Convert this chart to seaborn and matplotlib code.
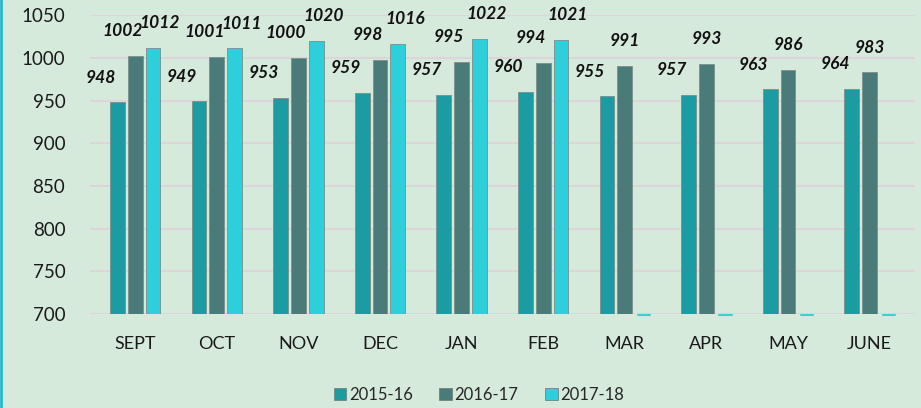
import numpy as np
import pandas as pd
import seaborn as sns
import matplotlib.pyplot as plt
from matplotlib.lines import Line2D

# data
months = ["SEPT", "OCT", "NOV", "DEC", "JAN", "FEB", "MAR", "APR", "MAY", "JUNE"]
y2015_16 = [948, 949, 953, 959, 957, 960, 955, 957, 963, 964]
y2016_17 = [1002, 1001, 1000, 998, 995, 994, 991, 993, 986, 983]
y2017_18 = [1012, 1011, 1020, 1016, 1022, 1021, np.nan, np.nan, np.nan, np.nan]
seasons = ["2015-16", "2016-17", "2017-18"]
colors = ["#1b9ba2", "#4a7b79", "#2ccfda"]

bg = "#d6eadc"

df = pd.DataFrame({
    "month": months * 3,
    "season": np.repeat(seasons, len(months)),
    "value": y2015_16 + y2016_17 + y2017_18,
})

sns.set_style("white")
plt.rcParams["font.family"] = ["Lato", "DejaVu Sans"]

fig = plt.figure(figsize=(9.21, 4.08), dpi=100, facecolor=bg)
ax = fig.add_axes([0.098, 0.230, 0.895, 0.733])
ax.set_facecolor(bg)

sns.barplot(data=df, x="month", y="value", hue="season", order=months,
            hue_order=seasons, palette=colors, saturation=1, width=0.655, gap=0.17,
            edgecolor="#7a8f8a", linewidth=0.6, ax=ax, legend=True)

ax.set_ylim(700, 1050)
ax.set_yticks(range(700, 1051, 50))
ax.yaxis.grid(True, color="#dcd6d8", linewidth=1.6)
ax.set_axisbelow(True)
for s in ax.spines.values():
    s.set_visible(False)
ax.tick_params(axis="both", length=0, labelsize=13, colors="#1a1a1a")
ax.tick_params(axis="y", labelsize=13.5, pad=18)
ax.tick_params(axis="x", pad=16)
ax.set_xlabel("")
ax.set_ylabel("")
ax.set_xlim(-0.55, 9.55)

# value labels (offset sideways like the original 3D layout)
has17 = [not np.isnan(v) for v in y2017_18]
for k, cont in enumerate(ax.containers):
    for i, p in enumerate(cont.patches):
        h = p.get_height()
        if np.isnan(h) or h == 0:
            continue
        if k == 0:
            dx = -12
        elif k == 1:
            dx = -9 if has17[i] else 0
        else:
            dx = 5
        ax.annotate(f"{int(round(h))}", (p.get_x() + p.get_width() / 2, h),
                    xytext=(dx, 12), textcoords="offset points",
                    ha="center", va="bottom", fontsize=12.5,
                    fontweight="bold", fontstyle="italic", color="#111111")

# flat stubs for the missing 2017-18 months
for i, ok in enumerate(has17):
    if not ok:
        ax.plot([i + 0.16, i + 0.31], [699, 699], color="#3ccfd6",
                linewidth=1.5, clip_on=False)

ax.legend_.remove()
handles = [plt.Rectangle((0, 0), 1, 1, facecolor=c, edgecolor="#6f8580", linewidth=0.6)
           for c in colors]
fig.legend(handles, seasons, loc="lower center", bbox_to_anchor=(0.52, -0.025),
           ncol=3, frameon=False, fontsize=12, handlelength=0.75, handleheight=0.75,
           handletextpad=0.15, columnspacing=1.6)

fig.add_artist(Line2D([0.0015, 0.0015], [0, 1], transform=fig.transFigure,
                      color="#27b9c8", linewidth=2))

fig.savefig("out.png", dpi=100, facecolor=bg)
